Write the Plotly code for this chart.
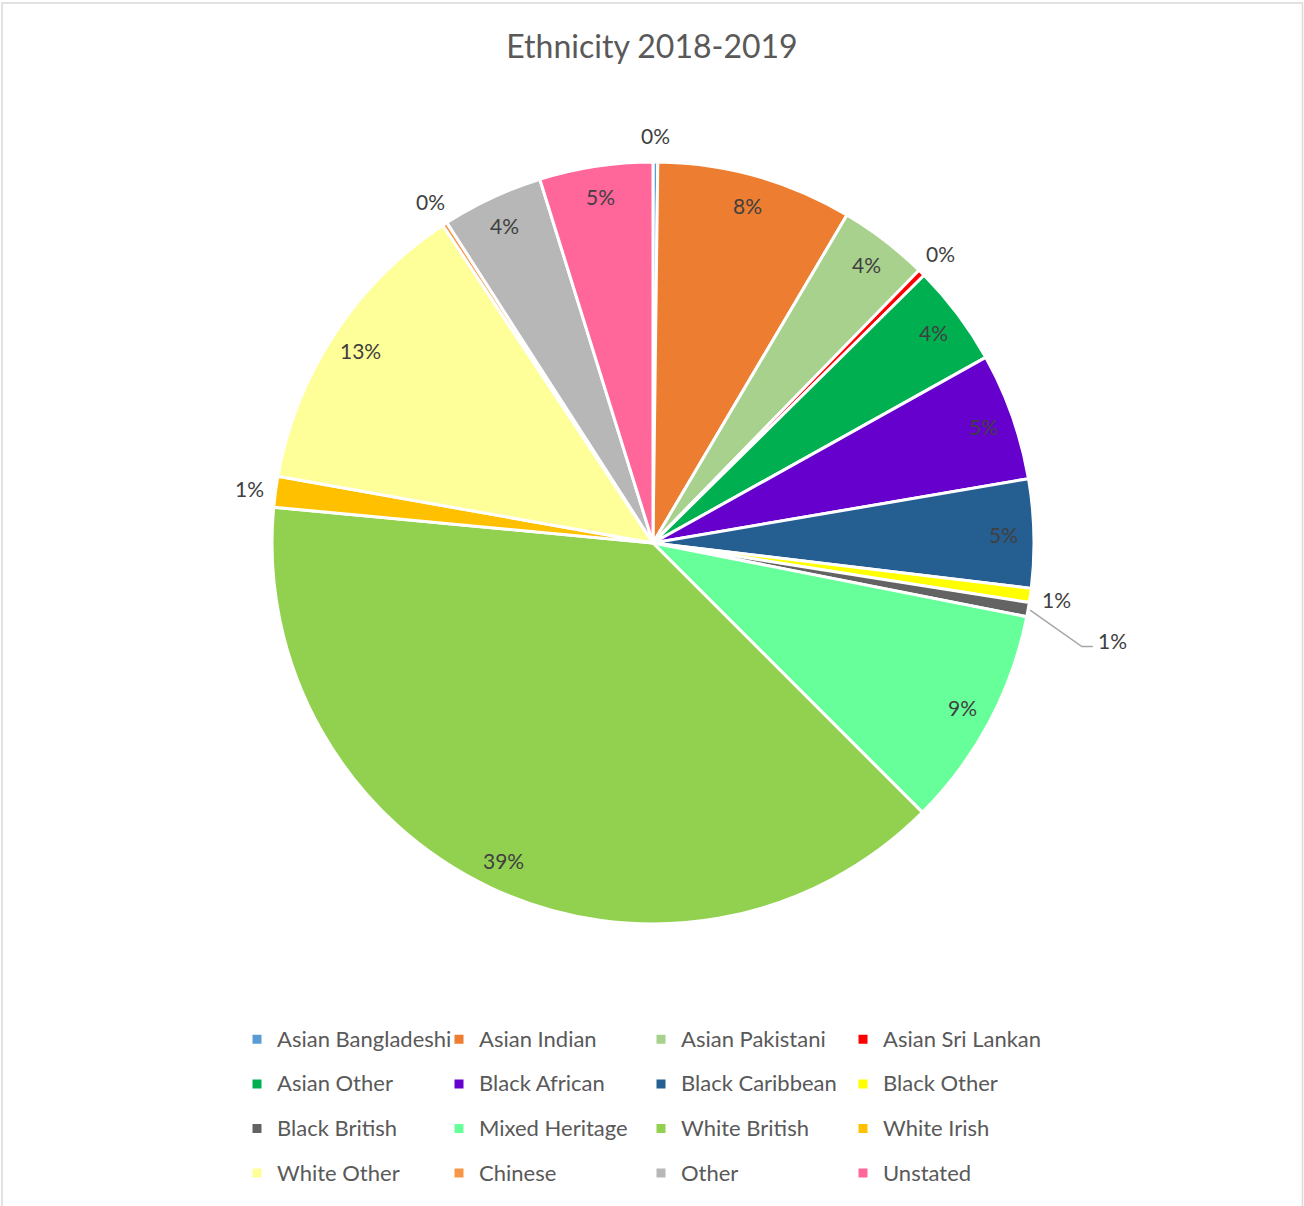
import math
import plotly.graph_objects as go

# Ethnic group breakdown for 2018-2019 (percentage share)
categories = [
    "Asian Bangladeshi", "Asian Indian", "Asian Pakistani", "Asian Sri Lankan",
    "Asian Other", "Black African", "Black Caribbean", "Black Other",
    "Black British", "Mixed Heritage", "White British", "White Irish",
    "White Other", "Chinese", "Other", "Unstated",
]
shares = [0.2, 8.3, 3.8, 0.3, 4.3, 5.4, 4.6, 0.6, 0.6, 9.4, 39.0, 1.3, 12.9, 0.2, 4.3, 4.8]
colors = [
    "#5B9BD5", "#ED7D31", "#A9D18E", "#FF0000",
    "#00B050", "#6600CC", "#255E91", "#FFFF00",
    "#636363", "#66FF99", "#92D050", "#FFC000",
    "#FFFF99", "#F79646", "#B7B7B7", "#FF6699",
]
title_text = "Ethnicity 2018-2019"

FONT = "Lato"
TEXT_COLOR = "#595959"
LABEL_COLOR = "#404040"
LABEL_SIZE = 21
LEGEND_TEXT_SIZE = 22

W, H = 1304, 1206
M = dict(l=203, r=201, t=162, b=282, autoexpand=False)
PW = W - M["l"] - M["r"]
PH = H - M["t"] - M["b"]
R = 381
CX = M["l"] + PW / 2
CY = M["t"] + R


def to_paper(x, y):
    return (x - M["l"]) / PW, (H - M["b"] - y) / PH


def polar(r, deg):
    t = math.radians(deg)
    return CX + r * math.sin(t), CY - r * math.cos(t)


def label(x, y, txt, xanchor="center"):
    px, py = to_paper(x, y)
    return dict(x=px, y=py, xref="paper", yref="paper", text=txt, showarrow=False,
                xanchor=xanchor, yanchor="middle",
                font=dict(family=FONT, size=LABEL_SIZE, color=LABEL_COLOR))


# legend entries are drawn a little smaller than the legend line pitch
legend_names = [
    f"<span style='font-size:{LEGEND_TEXT_SIZE}px;baseline-shift:5px'>{c}</span>"
    for c in categories
]

fig = go.Figure(
    go.Pie(
        labels=legend_names,
        values=shares,
        sort=False,
        direction="clockwise",
        rotation=0,
        marker=dict(colors=colors, line=dict(color="white", width=3)),
        textinfo="none",
        hoverinfo="percent",
        domain=dict(x=[(CX - R - M["l"]) / PW, (CX + R - M["l"]) / PW], y=[0, 1]),
    )
)

# Data labels: "inside end" for larger slices, outside for the thin ones
annotations = []
shapes = []
total = sum(shares)
cum = 0.0
prev_out = None
for v in shares:
    a0 = cum / total * 360
    cum += v
    a1 = cum / total * 360
    mid = (a0 + a1) / 2
    pct = v / total * 100
    txt = f"{round(pct)}%"
    if pct >= 2:
        x, y = polar(R * 0.92, mid)
        annotations.append(label(x, y, txt))
        continue
    x, y = polar(R * 1.07, mid)
    if prev_out is not None and abs(y - prev_out[1]) < 28 and abs(x - prev_out[0]) < 45:
        # crowded: move the label out and connect it with a leader line
        sx, sy = polar(R + 2, mid)
        ex, ey = polar(R * 1.158, mid + 3.5)
        hx = ex + 11
        p = [to_paper(sx, sy), to_paper(ex, ey), to_paper(hx, ey)]
        path = "M{},{} L{},{} L{},{}".format(p[0][0], p[0][1], p[1][0], p[1][1], p[2][0], p[2][1])
        shapes.append(dict(type="path", path=path, xref="paper", yref="paper",
                           line=dict(color="#A6A6A6", width=1.5)))
        annotations.append(label(hx + 3, ey - 6, txt, xanchor="left"))
        prev_out = (hx + 20, ey - 6)
    else:
        annotations.append(label(x, y, txt))
        prev_out = (x, y)

# Thin chart-area border
bx0, by0 = to_paper(2, 3)
bx1, by1 = to_paper(1302.5, 1212)
shapes.append(dict(type="rect", xref="paper", yref="paper", x0=bx0, y0=by0, x1=bx1, y1=by1,
                   line=dict(color="#D9D9D9", width=1.5), layer="below"))

lx, ly = to_paper(237, 1012)
fig.update_layout(
    width=W,
    height=H,
    margin=M,
    paper_bgcolor="white",
    plot_bgcolor="white",
    font=dict(family=FONT, color=TEXT_COLOR),
    title=dict(text=title_text, x=0.5, xanchor="center", y=1 - 47 / H, yanchor="middle",
               font=dict(family=FONT, size=32, color=TEXT_COLOR)),
    showlegend=True,
    legend=dict(orientation="h", x=lx, xanchor="left", y=ly, yanchor="top",
                entrywidth=157, traceorder="normal",
                font=dict(family=FONT, size=32, color=TEXT_COLOR)),
    annotations=annotations,
    shapes=shapes,
)

fig.write_html("out.html")
